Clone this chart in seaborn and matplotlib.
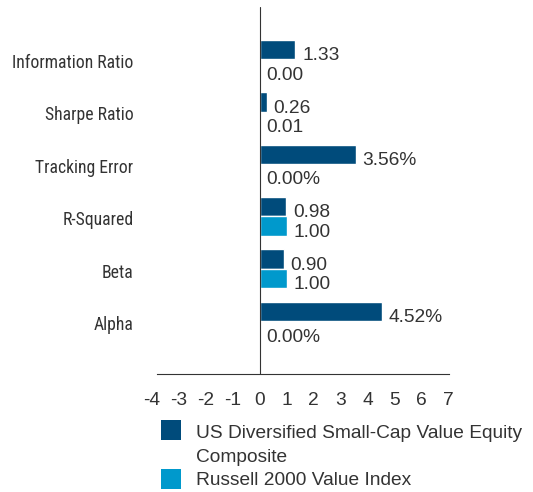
import matplotlib
matplotlib.use("Agg")
import matplotlib.pyplot as plt
import matplotlib.transforms as mtransforms
from matplotlib import font_manager as fm
from matplotlib.patches import Rectangle
import pandas as pd
import seaborn as sns

# Risk statistics: composite vs. benchmark
metrics = ["Information Ratio", "Sharpe Ratio", "Tracking Error", "R-Squared", "Beta", "Alpha"]
composite = [1.33, 0.26, 3.56, 0.98, 0.90, 4.52]
benchmark = [0.00, 0.01, 0.00, 1.00, 1.00, 0.00]
units = ["", "", "%", "", "", "%"]
series_names = ["US Diversified Small-Cap Value Equity Composite", "Russell 2000 Value Index"]
legend_lines = [["US Diversified Small-Cap Value Equity", "Composite"], ["Russell 2000 Value Index"]]
x_ticks = list(range(-4, 8))
colors = ["#004B7B", "#0099CC"]

df = pd.DataFrame({
    "metric": metrics * 2,
    "value": composite + benchmark,
    "series": [series_names[0]] * len(metrics) + [series_names[1]] * len(metrics),
})


def narrow_family():
    """Return a condensed sans family and stretch if one is installed."""
    names = {f.name for f in fm.fontManager.ttflist}
    for cand in ["Liberation Sans Narrow", "Roboto Condensed", "Open Sans Condensed",
                 "DejaVu Sans Condensed", "Noto Sans Condensed", "Arial Narrow"]:
        if cand in names:
            return cand, "normal"
    for f in fm.fontManager.ttflist:
        if str(f.stretch) in ("condensed", "semi-condensed", "extra-condensed") and f.style == "normal":
            return f.name, f.stretch
    return "Liberation Sans", "normal"


sns.set_theme(style="white")
main_family = ["Liberation Sans", "DejaVu Sans"]
plt.rcParams["font.family"] = main_family
text_color = "#333333"
line_color = "#333333"
fs = 13.8

W, H = 533, 492
fig = plt.figure(figsize=(W / 100, H / 100), dpi=100)
ax = fig.add_axes([151.5 / W, (H - 373.7) / H, 297 / W, 367 / H])

sns.barplot(data=df, x="value", y="metric", hue="series", order=metrics,
            hue_order=series_names, palette=colors, orient="h", width=0.74,
            saturation=1, legend=False, ax=ax)

ax.set_xlim(-4, 7)
ax.set_ylim(6, -1)
ax.set_xlabel("")
ax.set_ylabel("")

for side in ["top", "right", "left"]:
    ax.spines[side].set_visible(False)
ax.spines["bottom"].set_color(line_color)
ax.spines["bottom"].set_linewidth(0.8)
ax.spines["bottom"].set_bounds(-3.8, 7)
ax.axvline(0, color=line_color, lw=0.8, zorder=3)

ax.set_xticks(x_ticks)
ax.set_xticklabels([str(t) for t in x_ticks])
ax.tick_params(axis="x", length=0, pad=13, labelsize=fs, labelcolor=text_color)
ax.tick_params(axis="y", length=0, pad=13, labelcolor=text_color)

# category labels in a condensed face, sized so the longest one spans ~121 px
cat_family, cat_stretch = narrow_family()
renderer = fig.canvas.get_renderer()
probe = fig.text(0, 0, metrics[0], family=cat_family, fontstretch=cat_stretch, fontsize=14)
probe_w = probe.get_window_extent(renderer).width
probe.remove()
cat_size = min(14.5, 14.0 * 121.0 / probe_w)

shift = mtransforms.ScaledTranslation(0, -1.2 / 72, fig.dpi_scale_trans)
for lab in ax.get_yticklabels():
    lab.set_family(cat_family)
    lab.set_fontstretch(cat_stretch)
    lab.set_fontsize(cat_size)
    lab.set_transform(lab.get_transform() + shift)

# value labels at the end of each bar
for container, values in zip(ax.containers, [composite, benchmark]):
    for bar, v, u in zip(container, values, units):
        ax.annotate(f"{v:.2f}{u}",
                    xy=(bar.get_x() + bar.get_width(), bar.get_y() + bar.get_height() / 2),
                    xytext=(5, -4.5), textcoords="offset points",
                    ha="left", va="center", fontsize=fs, color=text_color)

# legend
swatch_tops = [420, 469]
baselines = [[438, 461.7], [485]]
for color, top, lines, bls in zip(colors, swatch_tops, legend_lines, baselines):
    fig.patches.append(Rectangle((161 / W, (H - top - 20) / H), 20 / W, 20 / H,
                                 transform=fig.transFigure, facecolor=color,
                                 edgecolor="none"))
    for line, bl in zip(lines, bls):
        fig.text(196 / W, (H - bl) / H, line, ha="left", va="baseline",
                 fontsize=fs, color=text_color)

fig.savefig("out.png", dpi=100)
